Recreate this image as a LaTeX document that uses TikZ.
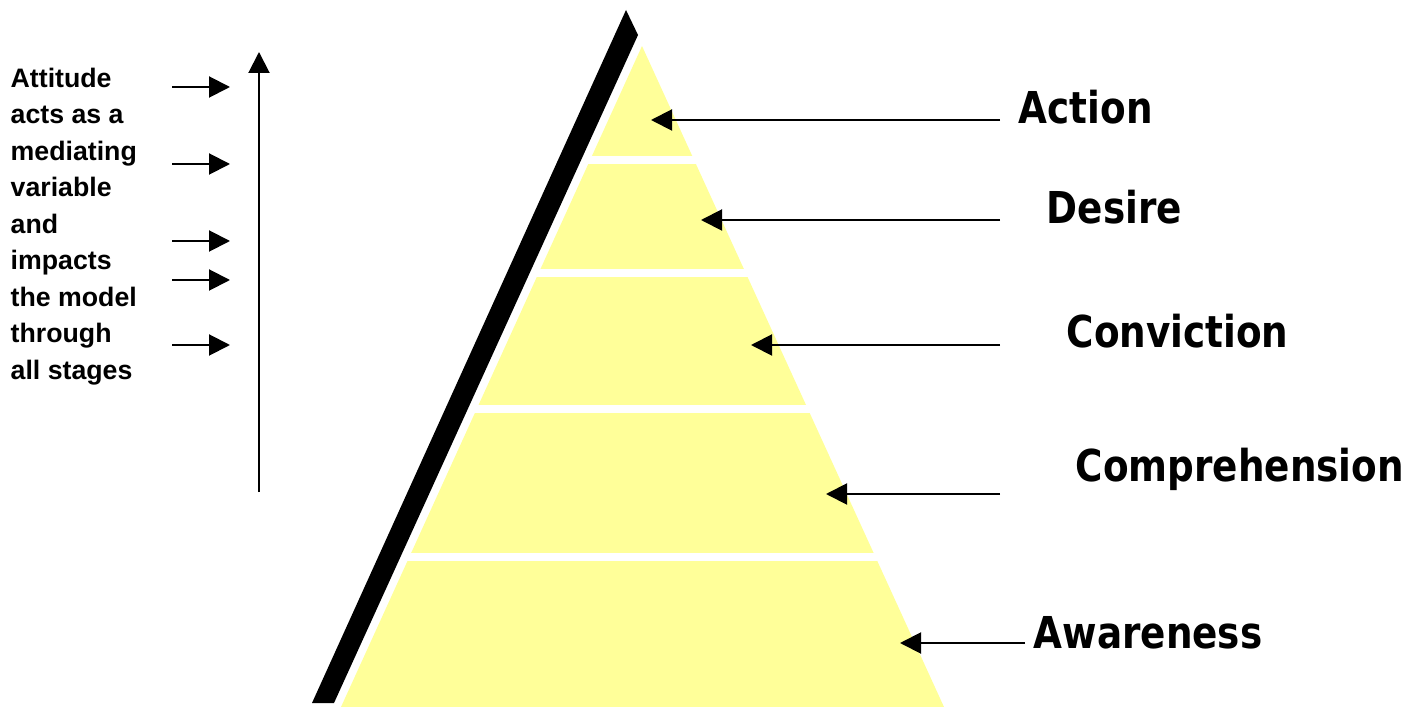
\documentclass[tikz,border=0pt]{standalone}
\usepackage{fontspec}
\setmainfont{Liberation Sans}
\newfontfamily\stagefont[FakeStretch=0.85]{DejaVu Sans}
\usetikzlibrary{arrows.meta}

\begin{document}
\begin{tikzpicture}[x=0.1mm, y=-0.1mm,
    pointer/.style={line width=0.2mm, -{Triangle[length=2.1mm, width=2.1mm]}},
    stage/.style={anchor=base west, inner sep=0pt, font=\stagefont\bfseries\fontsize{12.5}{15}\selectfont}]
    \definecolor{edgeColour}{HTML}{000000}
    \definecolor{fillColourBand}{HTML}{FFFF99}

    \useasboundingbox (0,0) rectangle (1422,707);

    % Black edge along the left side
    \fill[edgeColour] (626,10) -- (638,35) -- (334,703) -- (312,703) -- cycle;

    % Pyramid cut into five bands
    \begin{scope}
        \clip (642,46) -- (944,707) -- (341,707) -- cycle;
        \foreach \top/\bottom in {46/156, 164/269, 277/405, 413/553, 561/707}
            \fill[fillColourBand] (300,\top) rectangle (1000,\bottom);
    \end{scope}

    % Stage labels
    \node[stage] (action) at (1018,124) {Action};
    \node[stage] (desire) at (1046,224) {Desire};
    \node[stage] (conviction) at (1066,348) {Conviction};
    \node[stage] (comprehension) at (1075,482) {Comprehension};
    \node[stage] (awareness) at (1033,648) {Awareness};

    % Arrows into the bands
    \coordinate (actionStart) at (1000,120);
    \coordinate (actionTip) at (651,120);
    \coordinate (desireStart) at (1000,220);
    \coordinate (desireTip) at (701,220);
    \coordinate (convictionStart) at (1000,345);
    \coordinate (convictionTip) at (751,345);
    \coordinate (comprehensionStart) at (1000,494);
    \coordinate (comprehensionTip) at (826,494);
    \coordinate (awarenessStart) at (1025,643);
    \coordinate (awarenessTip) at (900,643);
    \foreach \s in {action,desire,conviction,comprehension,awareness}
        \draw[pointer] (\s Start) -- (\s Tip);

    % Attitude note with its arrows
    \node[anchor=north west, inner sep=0pt, align=left,
          font=\bfseries\fontsize{7.6}{10.4}\selectfont] (attitude) at (10,67)
        {Attitude\\acts as a\\mediating\\variable\\and\\impacts\\the model\\through\\all stages};
    \foreach \y [count=\i] in {87,164,241,280,345} {
        \coordinate (attStart\i) at (172,\y);
        \coordinate (attTip\i) at (230,\y);
        \draw[pointer] (attStart\i) -- (attTip\i);
    }

    % Rising arrow through all stages
    \coordinate (riseBottom) at (259,492);
    \coordinate (riseTop) at (259,52);
    \draw[pointer] (riseBottom) -- (riseTop);

\end{tikzpicture}
\end{document}
